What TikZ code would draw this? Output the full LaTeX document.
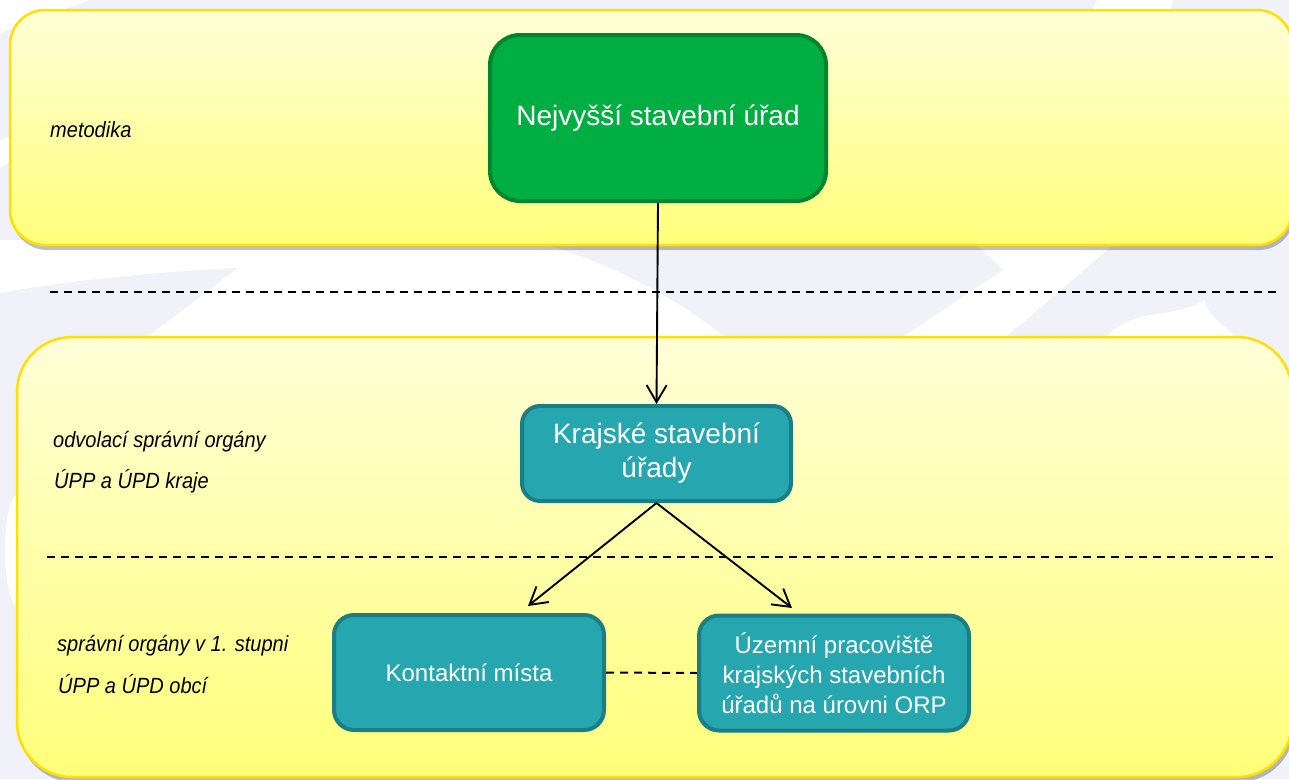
\documentclass[tikz,border=0pt]{standalone}
\usepackage{fontspec}
\setmainfont{Liberation Sans}
\newfontfamily\boxfont{Liberation Sans}
\newfontfamily\labelfont{Liberation Sans}[FakeStretch=0.91]
\usetikzlibrary{arrows.meta,shadows}
\definecolor{bglav}{HTML}{F0F1F9}
\definecolor{ytop}{HTML}{FFFFD8}
\definecolor{ybot}{HTML}{FFFF7A}
\definecolor{pborder}{HTML}{FFE000}
\definecolor{gfill}{HTML}{00AE41}
\definecolor{gborder}{HTML}{00852F}
\definecolor{tfill}{HTML}{26A7AF}
\definecolor{tborder}{HTML}{1B7E84}
\tikzset{
  panel/.style={draw=pborder, line width=2.5pt, top color=ytop, bottom color=ybot,
    drop shadow={shadow xshift=2pt, shadow yshift=-5pt, opacity=0.25, fill=black}},
  greenbox/.style={draw=gborder, fill=gfill, line width=4pt, rounded corners=30pt,
    text=white, align=center, inner sep=0pt,
    font=\boxfont\fontsize{28}{34}\selectfont},
  tealbox/.style={draw=tborder, fill=tfill, line width=4pt, rounded corners=20pt,
    text=white, align=center, inner sep=0pt},
  bigtext/.style={font=\boxfont\fontsize{28}{34}\selectfont},
  smalltext/.style={font=\boxfont\fontsize{24}{30}\selectfont},
  levellabel/.style={anchor=base west, inner sep=0pt, font=\labelfont\itshape\fontsize{22}{26}\selectfont},
  conn/.style={line width=1.9pt, -{Straight Barb[length=17pt,width=20pt,line width=1.9pt]}},
  sepline/.style={line width=2pt, dash pattern=on 8pt off 6pt},
}
\begin{document}
\begin{tikzpicture}[x=1pt,y=-1pt]
\useasboundingbox (0,0) rectangle (1289,779);
\begin{scope}
\clip (0,0) rectangle (1289,779);
% background
\fill[bglav] (0,0) rectangle (1289,779);
\fill[white] (0,240) -- (530,240) .. controls (600,258) and (680,298) .. (730,342)
  -- (141,342) -- (238,268) .. controls (150,272) and (60,282) .. (0,293) -- cycle;
\fill[white] (1097,0) -- (1173,0) -- (1113,245) -- (1000,342) -- (895,342)
  -- (1003,270) -- (977,245) -- cycle;
\fill[white] (1100,342) .. controls (1115,326) and (1130,318) .. (1150,315)
  .. controls (1180,311) and (1198,306) .. (1204,300)
  .. controls (1208,316) and (1222,324) .. (1242,342) -- cycle;
\fill[white] (17,550) ellipse [x radius=12, y radius=55];
\fill[white] (0,0) -- (90,0) -- (0,33) -- cycle;
\fill[white] (0,140) -- (15,135) -- (15,160) -- (0,167) -- cycle;
% panels
\path[panel, rounded corners=35pt] (10,10) rectangle (1292,245);
\path[panel, rounded corners=55pt] (17,337) rectangle (1292,777);
% separators
\draw[sepline] (50,292) -- (1278,292);
\draw[sepline] (47,557) -- (1275,557);
% level labels
\node[levellabel] (lmet) at (50,137) {metodika};
\node[levellabel] (lodv) at (53,447) {odvolací správní orgány};
\node[levellabel] (lkraj) at (54,488) {ÚPP a ÚPD kraje};
\node[levellabel] (lspr) at (57,651) {správní orgány v 1. stupni};
\node[levellabel] (lobc) at (58,693) {ÚPP a ÚPD obcí};
% boxes
\node[greenbox, minimum width=336pt, minimum height=166pt] (nsu) at (658,118) {Nejvyšší stavební úřad};
\node[tealbox, bigtext, rounded corners=18pt, minimum width=269pt, minimum height=95pt] (ksu) at (656.5,453.5) {Krajské stavební\\úřady};
\node[tealbox, smalltext, minimum width=270pt, minimum height=115pt] (km) at (469,672.5) {Kontaktní místa};
\node[tealbox, smalltext, minimum width=270pt, minimum height=115pt] (up) at (834,673) {Územní pracoviště\\krajských stavebních\\úřadů na úrovni ORP};
% connectors
\coordinate (t1) at (528,606);
\coordinate (t2) at (792,608);
\draw[conn] (nsu.south) -- (ksu.north);
\draw[conn] (ksu.south) -- (t1);
\draw[conn] (ksu.south) -- (t2);
\draw[sepline] (km.east) -- (up.west);
\end{scope}
\end{tikzpicture}
\end{document}
